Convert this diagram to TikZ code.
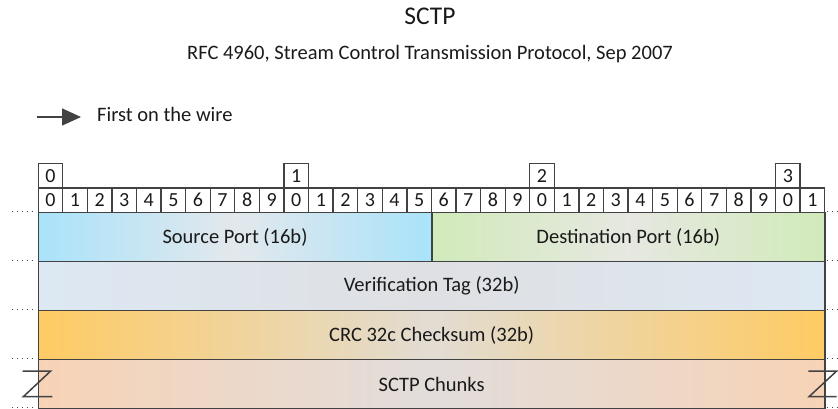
\documentclass[tikz,border=0pt]{standalone}
\usepackage{fontspec}
\setmainfont{Carlito}
\usetikzlibrary{arrows.meta}

\definecolor{edgegray}{HTML}{424242}
\definecolor{inkgray}{HTML}{1A1A1A}
\definecolor{srcside}{HTML}{A9E3FA}
\definecolor{srcmid}{HTML}{E3E8EC}
\definecolor{dstside}{HTML}{D1EABA}
\definecolor{dstmid}{HTML}{E6E8E1}
\definecolor{tagside}{HTML}{DCE8F3}
\definecolor{tagmid}{HTML}{DFE0E3}
\definecolor{crcside}{HTML}{FFCB63}
\definecolor{crcmid}{HTML}{E2DCD3}
\definecolor{chkside}{HTML}{F7D3B6}
\definecolor{chkmid}{HTML}{E2DDDB}

\tikzset{
  bitcell/.style={draw=edgegray, line width=1.3pt, minimum width=24.58pt,
    minimum height=24.4pt, inner sep=0pt, anchor=north west, text=inkgray,
    font=\fontsize{20}{20}\selectfont},
  field/.style={draw=edgegray, line width=1.7pt, minimum height=49pt,
    inner sep=0pt, anchor=north west, text=inkgray,
    font=\fontsize{20.5}{20.5}\selectfont},
  dotline/.style={edgegray, line width=1.2pt, dash pattern=on 1.2pt off 3.8pt},
  zmark/.style={edgegray, line width=1.5pt}
}

\begin{document}
\begin{tikzpicture}[x=1pt, y=-1pt]
  \useasboundingbox (0,0) rectangle (838,409);

  \node[anchor=base, text=inkgray, font=\fontsize{25.5}{25.5}\selectfont] (title) at (430,25) {SCTP};
  \node[anchor=base, text=inkgray, font=\fontsize{20.5}{20.5}\selectfont] (subtitle) at (430,60)
    {RFC 4960, Stream Control Transmission Protocol, Sep 2007};

  \coordinate (wstart) at (37,117);
  \coordinate (wend) at (81,117);
  \draw[edgegray, line width=1.5pt, -{Triangle[length=19pt, width=17pt]}] (wstart) -- (wend);
  \node[anchor=base west, inner sep=0pt, text=inkgray, font=\fontsize{20.5}{20.5}\selectfont] (wire) at (97,122) {First on the wire};

  \foreach \j in {0,...,3}
    \node[bitcell] (t\j) at (37.5+245.8*\j,162.9) {\j};
  \foreach \i in {0,...,31} {
    \pgfmathtruncatemacro\d{mod(\i,10)}
    \node[bitcell] (b\i) at (37.5+24.58*\i,187.3) {\d};
  }

  \node[field, minimum width=393.3pt, left color=srcside, right color=srcside, middle color=srcmid] (src) at (37.5,211.7) {Source Port (16b)};
  \node[field, minimum width=393.3pt, left color=dstside, right color=dstside, middle color=dstmid] (dst) at (430.8,211.7) {Destination Port (16b)};
  \node[field, minimum width=786.6pt, left color=tagside, right color=tagside, middle color=tagmid] (vtag) at (37.5,260.7) {Verification Tag (32b)};
  \node[field, minimum width=786.6pt, left color=crcside, right color=crcside, middle color=crcmid] (crc) at (37.5,309.7) {CRC 32c Checksum (32b)};
  \node[field, minimum width=786.6pt, left color=chkside, right color=chkside, middle color=chkmid] (chunks) at (37.5,358.7) {SCTP Chunks};

  \foreach \y in {211.7,260.7,309.7,358.7,407.7} {
    \draw[dotline] (12,\y) -- (35,\y);
    \draw[dotline] (827,\y) -- (838,\y);
  }

  \draw[zmark] (22.7,371) -- (50.7,371) -- (23.3,396.7) -- (52.3,396.7);
  \draw[zmark] (808.3,371) -- (836.7,371) -- (809,396.7) -- (836.7,396.7);
\end{tikzpicture}
\end{document}
